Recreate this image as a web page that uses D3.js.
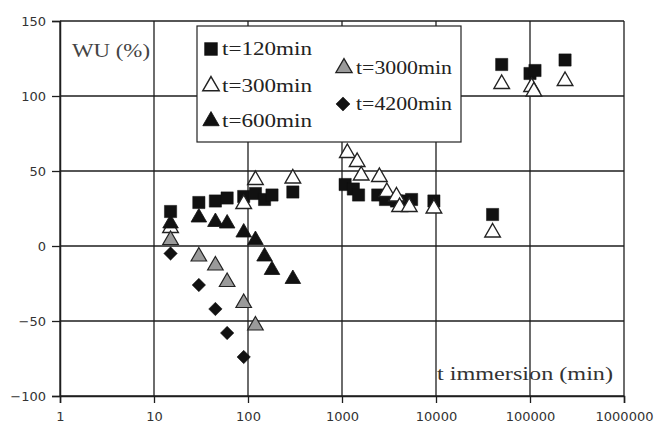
<!DOCTYPE html>
<html>
<head>
<meta charset="utf-8">
<script src="https://cdn.jsdelivr.net/npm/d3@7"></script>
<style>
  body { margin: 0; background: #fff; }
  svg { display: block; }
</style>
</head>
<body>
<svg id="chart" width="658" height="426"></svg>
<script>
// tick values
const xTicks = [1, 10, 100, 1000, 10000, 100000, 1000000];
const yTicks = [-100, -50, 0, 50, 100, 150];

// series (x = immersion time in min, y = WU %)
const t120_x = [15, 30, 45, 60, 90, 120, 150, 180, 300, 1080, 1320, 1500, 2400, 2900, 3800, 4500, 5500, 9500, 40000, 50000, 100000, 113000, 236000];
const t120_y = [23, 29, 30, 32, 33, 35, 31, 34, 36, 41, 38, 34, 34, 31, 30, 30, 31, 30, 21, 121, 115, 117, 124];

const t300_x = [15, 90, 120, 300, 1140, 1450, 1600, 2500, 3000, 3800, 4100, 5200, 9500, 40000, 50000, 104000, 110000, 236000];
const t300_y = [12, 28, 44, 45, 62, 56, 47, 46, 36, 33, 26, 26, 25, 9, 108, 106, 103, 110];

const t600_x = [15, 30, 45, 60, 90, 120, 150, 180, 300];
const t600_y = [15, 19, 16, 15, 9, 4, -7, -16, -22];

const t3000_x = [15, 30, 45, 60, 90, 120];
const t3000_y = [4, -7, -13, -24, -38, -53];

const t4200_x = [15, 30, 45, 60, 90];
const t4200_y = [-5, -26, -42, -58, -74];

const seriesNames = ["t=120min", "t=300min", "t=600min", "t=3000min", "t=4200min"];

let svg = d3.select("#chart");
let plot = { left: 60, right: 624, top: 21, bottom: 396 };

let xScale = d3.scaleLog()
  .domain([1, 1000000])
  .range([plot.left, plot.right]);
let yScale = d3.scaleLinear()
  .domain([-100, 150])
  .range([plot.bottom, plot.top]);

let gridColor = "#1e1e1e";
let tickFont = "'DejaVu Sans', Verdana, sans-serif";
let serif = "'Liberation Serif', 'Times New Roman', serif";

// gridlines
svg.selectAll(".hgrid")
  .data(yTicks)
  .enter()
  .append("line")
    .attr("x1", plot.left)
    .attr("x2", plot.right)
    .attr("y1", d => yScale(d))
    .attr("y2", d => yScale(d))
    .style("stroke", gridColor)
    .style("stroke-width", 1.3);
svg.selectAll(".vgrid")
  .data(xTicks)
  .enter()
  .append("line")
    .attr("x1", d => xScale(d))
    .attr("x2", d => xScale(d))
    .attr("y1", plot.top)
    .attr("y2", plot.bottom)
    .style("stroke", gridColor)
    .style("stroke-width", 1.3);

// axes
let yAxis = d3.axisLeft(yScale).tickValues(yTicks).tickSize(8).tickPadding(6);
let xAxis = d3.axisBottom(xScale).tickValues(xTicks).tickSize(7).tickPadding(9)
  .tickFormat(d3.format("d"));

let gy = svg.append("g")
  .attr("transform", "translate(" + plot.left + ",0)")
  .call(yAxis);
let gx = svg.append("g")
  .attr("transform", "translate(0," + plot.bottom + ")")
  .call(xAxis);
[gx, gy].forEach(g => {
  g.select(".domain").style("stroke", gridColor).style("stroke-width", 1.5);
  g.selectAll(".tick line").style("stroke", gridColor).style("stroke-width", 1.3);
  g.selectAll(".tick text")
    .style("font-family", tickFont)
    .style("font-size", "13px")
    .style("fill", "#333");
});

// marker drawing
let squarePath = d3.symbol().type(d3.symbolSquare).size(150)();
let trianglePath = d3.symbol().type(d3.symbolTriangle).size(105)();
let diamondPath = d3.symbol().type(d3.symbolSquare).size(90)();

let markerStyle = {
  "t=120min": { path: squarePath, fill: "#111", stroke: "#111", sw: 0.5, rot: 0 },
  "t=300min": { path: trianglePath, fill: "#fff", stroke: "#222", sw: 1.4, rot: 0 },
  "t=600min": { path: trianglePath, fill: "#111", stroke: "#111", sw: 0.8, rot: 0 },
  "t=3000min": { path: trianglePath, fill: "#9a9a9a", stroke: "#222", sw: 1.2, rot: 0 },
  "t=4200min": { path: diamondPath, fill: "#111", stroke: "#111", sw: 0.5, rot: 45 }
};

function drawSeries(name, xs, ys) {
  let st = markerStyle[name];
  let pts = xs.map((x, i) => ({ x: x, y: ys[i] }));
  svg.append("g")
    .selectAll("path")
    .data(pts)
    .enter()
    .append("path")
      .attr("d", st.path)
      .attr("transform", d => "translate(" + xScale(d.x) + "," + yScale(d.y) + ") rotate(" + st.rot + ")")
      .style("fill", st.fill)
      .style("stroke", st.stroke)
      .style("stroke-width", st.sw);
}

drawSeries("t=120min", t120_x, t120_y);
drawSeries("t=300min", t300_x, t300_y);
drawSeries("t=600min", t600_x, t600_y);
drawSeries("t=3000min", t3000_x, t3000_y);
drawSeries("t=4200min", t4200_x, t4200_y);

// axis titles
svg.append("text")
  .attr("x", 72)
  .attr("y", 57)
  .attr("textLength", 78)
  .attr("lengthAdjust", "spacingAndGlyphs")
  .text("WU (%)")
  .style("font-family", serif)
  .style("font-size", "18px")
  .style("fill", "#444");
svg.append("text")
  .attr("x", 437)
  .attr("y", 380)
  .attr("textLength", 176)
  .attr("lengthAdjust", "spacingAndGlyphs")
  .text("t immersion (min)")
  .style("font-family", serif)
  .style("font-size", "18px")
  .style("fill", "#333");

// legend
let legend = svg.append("g");
legend.append("rect")
  .attr("x", 197)
  .attr("y", 26)
  .attr("width", 264)
  .attr("height", 116)
  .style("fill", "#fff")
  .style("stroke", "#222")
  .style("stroke-width", 1.2);

let legendPos = [
  { mx: 211, tx: 222, y: 49 },
  { mx: 211, tx: 222, y: 86 },
  { mx: 211, tx: 222, y: 121 },
  { mx: 344, tx: 356, y: 68 },
  { mx: 343, tx: 356, y: 104 }
];
let legendLen = [90, 90, 90, 96, 96];

legend.selectAll(".lgMark")
  .data(seriesNames)
  .enter()
  .append("path")
    .attr("d", d => markerStyle[d].path)
    .attr("transform", (d, i) => "translate(" + legendPos[i].mx + "," + legendPos[i].y + ") rotate(" + markerStyle[d].rot + ") scale(1.05)")
    .style("fill", d => markerStyle[d].fill)
    .style("stroke", d => markerStyle[d].stroke)
    .style("stroke-width", d => markerStyle[d].sw);
legend.selectAll(".lgText")
  .data(seriesNames)
  .enter()
  .append("text")
    .attr("x", (d, i) => legendPos[i].tx)
    .attr("y", (d, i) => legendPos[i].y + 6)
    .attr("textLength", (d, i) => legendLen[i])
    .attr("lengthAdjust", "spacingAndGlyphs")
    .text(d => d)
    .style("font-family", serif)
    .style("font-size", "18px")
    .style("fill", "#222");
</script>
</body>
</html>
